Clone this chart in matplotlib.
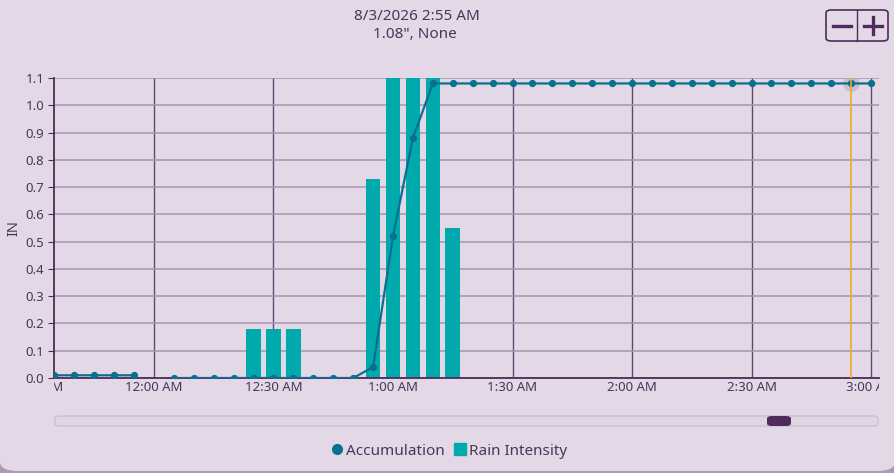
import numpy as np
import matplotlib
matplotlib.use("Agg")
import matplotlib.pyplot as plt
import matplotlib.transforms as mtransforms
from matplotlib.patches import FancyBboxPatch
from matplotlib.lines import Line2D

plt.rcParams['font.family'] = ['Noto Sans', 'DejaVu Sans']

# ---- data (minutes relative to 12:00 AM) ----
acc_minutes = [-25, -20, -15, -10, -5, 0, 5, 10, 15, 20, 25, 30, 35, 40, 45, 50,
               55, 60, 65, 70, 75, 80, 85, 90, 95, 100, 105, 110, 115, 120,
               125, 130, 135, 140, 145, 150, 155, 160, 165, 170, 175, 180]
acc_values = [0.01, 0.01, 0.01, 0.01, 0.01, np.nan, 0.0, 0.0, 0.0, 0.0, 0.0, 0.0,
              0.0, 0.0, 0.0, 0.0, 0.04, 0.52, 0.88, 1.08, 1.08, 1.08, 1.08, 1.08,
              1.08, 1.08, 1.08, 1.08, 1.08, 1.08, 1.08, 1.08, 1.08, 1.08, 1.08,
              1.08, 1.08, 1.08, 1.08, 1.08, 1.08, 1.08]
rain_minutes = [25, 30, 35, 55, 60, 65, 70, 75]
rain_values = [0.18, 0.18, 0.18, 0.73, 5.76, 4.32, 2.40, 0.55]
tick_minutes = [-30, 0, 30, 60, 90, 120, 150, 180]
tick_labels = ["11:30 PM", "12:00 AM", "12:30 AM", "1:00 AM", "1:30 AM",
               "2:00 AM", "2:30 AM", "3:00 AM"]
y_ticks = [0.0, 0.1, 0.2, 0.3, 0.4, 0.5, 0.6, 0.7, 0.8, 0.9, 1.0, 1.1]
selected_minute = 175
selected_value = 1.08
title_lines = ["8/3/2026 2:55 AM", '1.08", None']

# ---- styling ----
W, H = 895, 473
BG = "#e3d9e6"
TXT = "#4b3558"
DARK = "#4f2b5b"
HGRID = "#a892ae"
VGRID = "#634670"
BAR = "#00a9ac"
LINE = "#0b6f8f"

def fx(x):
    return x / W

def fy(y):
    return 1 - y / H

fig = plt.figure(figsize=(W / 100, H / 100), dpi=100)
fig.patch.set_facecolor("#ae99b4")

# card background with rounded bottom corners
card = FancyBboxPatch((0, fy(471)), 1.0, 1.2, boxstyle="round,pad=0,rounding_size=0.02",
                      transform=fig.transFigure, facecolor=BG, edgecolor="none", zorder=-5)
fig.patches.append(card)

ax = fig.add_axes([fx(54), fy(378), fx(879) - fx(54), fy(78) - fy(378)])
ax.set_facecolor(BG)

ax.bar(rain_minutes, rain_values, width=3.65, color=BAR, zorder=2)
ax.plot(acc_minutes, acc_values, color=LINE, lw=1.6, marker="o", ms=4.2, zorder=3)

# highlight
ax.axvline(selected_minute, color="#f2a72e", lw=1.2, zorder=4)
ax.plot([selected_minute], [selected_value], marker="o", ms=12, color="#b7a9bd",
        alpha=0.6, zorder=2.5, mec="none")

ax.set_yticks(y_ticks)
ax.set_yticklabels([f"{v:.1f}" for v in y_ticks])
ax.set_xticks(tick_minutes)
ax.set_xticklabels([])
ax.set_xlim(-25.1, 182.0)
ax.set_ylim(0, 1.1)
ax.tick_params(axis="x", length=0)
ax.tick_params(axis="y", length=4, color=DARK, labelcolor=TXT, labelsize=9.5, pad=3)
ax.set_axisbelow(True)
ax.grid(axis="y", color=HGRID, lw=1.1)
ax.grid(axis="x", color=VGRID, lw=1.0)
for s in ["top", "right"]:
    ax.spines[s].set_visible(False)
for s in ["left", "bottom"]:
    ax.spines[s].set_color(DARK)
    ax.spines[s].set_linewidth(1.3)
ax.set_ylabel("IN", color=TXT, fontsize=10.5, labelpad=3)

# x tick labels clipped to the plot width
clipbox = mtransforms.TransformedBbox(
    mtransforms.Bbox.from_extents(fx(54), 0, fx(879), 1), fig.transFigure)
blend = mtransforms.blended_transform_factory(ax.transData, fig.transFigure)
for m, lab in zip(tick_minutes, tick_labels):
    t = fig.text(m, fy(387), lab, transform=blend, ha="center", va="center",
                 fontsize=9.5, color=TXT)
    t.set_clip_box(clipbox)
    t.set_clip_on(True)

# title
fig.text(fx(417), fy(17), title_lines[0], ha="center", va="center", fontsize=11, color=TXT)
fig.text(fx(415), fy(34), title_lines[1], ha="center", va="center", fontsize=11, color=TXT)

# zoom buttons
btn = FancyBboxPatch((fx(826), fy(41)), fx(888) - fx(826), fy(10) - fy(41),
                     boxstyle="round,pad=0,rounding_size=0.006", transform=fig.transFigure,
                     facecolor="none", edgecolor=DARK, lw=1.2)
fig.patches.append(btn)
fig.lines.append(Line2D([fx(857.3), fx(857.3)], [fy(41), fy(10)], transform=fig.transFigure,
                        color=DARK, lw=1.0))
fig.lines.append(Line2D([fx(833), fx(851)], [fy(25.5), fy(25.5)], transform=fig.transFigure,
                        color=DARK, lw=2.4))
fig.lines.append(Line2D([fx(864), fx(882)], [fy(25.5), fy(25.5)], transform=fig.transFigure,
                        color=DARK, lw=2.4))
fig.lines.append(Line2D([fx(873), fx(873)], [fy(17), fy(34)], transform=fig.transFigure,
                        color=DARK, lw=2.4))

# scrollbar
track = FancyBboxPatch((fx(55), fy(426)), fx(878) - fx(55), fy(416) - fy(426),
                       boxstyle="round,pad=0,rounding_size=0.005", transform=fig.transFigure,
                       facecolor="#e0d6e3", edgecolor="#cdbfd2", lw=1.0)
fig.patches.append(track)
thumb = FancyBboxPatch((fx(767), fy(426)), fx(791) - fx(767), fy(416) - fy(426),
                       boxstyle="round,pad=0,rounding_size=0.0055", transform=fig.transFigure,
                       facecolor=DARK, edgecolor="none")
fig.patches.append(thumb)

# legend
handles = [Line2D([], [], marker="o", ls="none", color=LINE, ms=7),
           Line2D([], [], marker="s", ls="none", color=BAR, ms=8)]
fig.legend(handles, ["Accumulation", "Rain Intensity"], loc="center",
           bbox_to_anchor=(fx(448), fy(451)), ncol=2, frameon=False, fontsize=11,
           handletextpad=0.1, columnspacing=0.5, handlelength=1.0, labelcolor=TXT)

fig.savefig("out.png", dpi=100, facecolor=fig.get_facecolor())
